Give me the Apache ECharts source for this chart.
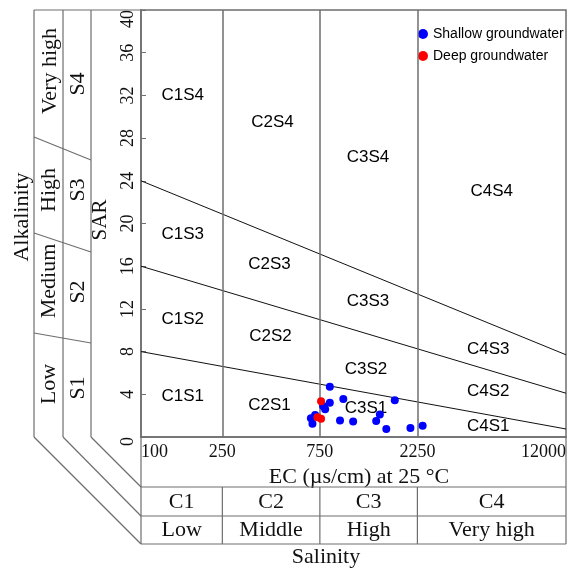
<!DOCTYPE html>
<html>
<head>
<meta charset="utf-8">
<title>Wilcox diagram</title>
<script src="https://cdn.jsdelivr.net/npm/echarts@6/dist/echarts.min.js"></script>
<style>
    html, body { margin: 0; padding: 0; background: #fff; }
    #chart { width: 569px; height: 568px; }
</style>
</head>
<body>
<div id="chart"></div>
<script>
    // sample points
    var shallowEC = [839, 977, 839, 796, 778, 678, 690, 711, 941, 1091, 1414, 1474, 1744, 1585, 2080, 2387];
    var shallowSAR = [4.7, 3.55, 3.2, 2.6, 2.9, 1.75, 1.25, 2.05, 1.55, 1.45, 1.5, 2.1, 3.45, 0.75, 0.85, 1.05];
    var deepEC = [760, 730, 760];
    var deepSAR = [3.35, 1.85, 1.7];

    // axis ticks
    var ecTicks = [100, 250, 750, 2250, 12000];
    var ecBounds = [250, 750, 2250];
    var sarMax = 40;

    // sodium hazard boundary lines (SAR at EC=100 and at EC=12000)
    var boundStart = [8, 16, 24];
    var boundEnd = [0.75, 4.1, 7.7];

    // zone labels
    var zoneNames = ['C1S4', 'C2S4', 'C3S4', 'C4S4', 'C1S3', 'C2S3', 'C3S3', 'C4S3',
        'C1S2', 'C2S2', 'C3S2', 'C4S2', 'C1S1', 'C2S1', 'C3S1', 'C4S1'];
    var zoneEC = [160, 440, 1290, 5200, 160, 425, 1290, 5000, 160, 430, 1260, 5000, 160, 425, 1260, 5000];
    var zoneSAR = [32, 29.5, 26.2, 23, 19, 16.2, 12.7, 8.2, 11, 9.4, 6.3, 4.3, 3.85, 3, 2.7, 1.0];

    var classC = ['C1', 'C2', 'C3', 'C4'];
    var classSal = ['Low', 'Middle', 'High', 'Very high'];

    var serif = '"Liberation Serif", "Times New Roman", serif';
    var sans = '"Liberation Sans", Arial, sans-serif';
    var frame = '#6e6e6e';

    var chart = echarts.init(document.getElementById('chart'));

    var series = [];
    for (var i = 0; i < boundStart.length; i++) {
        series.push({
            type: 'line',
            silent: true,
            symbol: 'none',
            lineStyle: {color: '#111', width: 1},
            data: [[100, boundStart[i]], [12000, boundEnd[i]]],
            z: 2
        });
    }
    series[0].markLine = {
        silent: true,
        symbol: 'none',
        label: {show: false},
        lineStyle: {color: frame, width: 1.5, type: 'solid'},
        data: ecBounds.map(function (v) { return {xAxis: v}; })
    };

    series.push({
        type: 'scatter',
        silent: true,
        symbolSize: 0,
        itemStyle: {opacity: 1},
        label: {
            show: true,
            position: 'inside',
            formatter: function (p) { return p.data.name; },
            color: '#000',
            fontFamily: sans,
            fontSize: 17
        },
        data: zoneNames.map(function (n, k) { return {name: n, value: [zoneEC[k], zoneSAR[k]]}; }),
        z: 3
    });

    series.push({
        name: 'Shallow groundwater',
        type: 'scatter',
        symbolSize: 8,
        itemStyle: {color: '#0000ff', opacity: 1},
        data: shallowEC.map(function (v, k) { return [v, shallowSAR[k]]; }),
        z: 5
    });
    series.push({
        name: 'Deep groundwater',
        type: 'scatter',
        symbolSize: 8,
        itemStyle: {color: '#ff0000', opacity: 1},
        data: deepEC.map(function (v, k) { return [v, deepSAR[k]]; }),
        z: 6
    });

    var option = {
        animation: false,
        backgroundColor: '#fff',
        grid: {
            left: 141, right: 1, top: 10, bottom: 131,
            show: true, borderColor: frame, borderWidth: 1.5
        },
        legend: {
            data: ['Shallow groundwater', 'Deep groundwater'],
            orient: 'vertical',
            left: 413, top: 22,
            icon: 'circle',
            itemWidth: 10, itemHeight: 10,
            itemGap: 8,
            textStyle: {fontFamily: sans, fontSize: 14, color: '#000'}
        },
        xAxis: {
            type: 'log',
            logBase: 10,
            min: 100,
            max: 12000,
            name: 'EC (\u00b5s/cm) at 25 \u00b0C',
            nameLocation: 'middle',
            nameGap: 24,
            nameTextStyle: {fontFamily: serif, fontSize: 22, color: '#111', padding: [0, 0, 0, 11]},
            axisLine: {lineStyle: {color: frame, width: 1.5}},
            axisTick: {show: false},
            splitLine: {show: false},
            axisLabel: {
                customValues: ecTicks,
                formatter: function (v) { return String(Math.round(v)); },
                alignMinLabel: 'left',
                alignMaxLabel: 'right',
                margin: 6,
                fontFamily: serif,
                fontSize: 18,
                color: '#111'
            }
        },
        yAxis: {
            type: 'value',
            min: 0,
            max: sarMax,
            interval: 4,
            name: 'SAR',
            nameLocation: 'middle',
            nameRotate: 90,
            nameGap: 18,
            nameTextStyle: {fontFamily: serif, fontSize: 21, color: '#111', padding: [0, 0, 0, 7]},
            axisLine: {show: true, lineStyle: {color: frame, width: 1.5}},
            axisTick: {show: true, inside: true, length: 5, lineStyle: {color: frame}},
            splitLine: {show: false},
            axisLabel: {
                rotate: 90,
                margin: 4,
                alignMinLabel: 'right',
                alignMaxLabel: 'right',
                fontFamily: serif,
                fontSize: 18,
                color: '#111'
            }
        },
        series: series
    };
    chart.setOption(option);

    // frame round the plot: alkalinity columns on the left, salinity table below
    var px = ecTicks.map(function (v) { return chart.convertToPixel({xAxisIndex: 0}, v); });
    var xl = px[0], xr = px[4];
    var yTop = 10, yBot = 437, r1 = 487, r2 = 516, r3 = 544;
    var colX = [34, 63, 91];

    function line(x1, y1, x2, y2, color, w) {
        return {type: 'line', silent: true, shape: {x1: x1, y1: y1, x2: x2, y2: y2},
            style: {stroke: color || frame, lineWidth: w || 1.2}, z: 10};
    }
    function text(s, x, y, size, rot, font) {
        return {type: 'text', silent: true, x: x, y: y, rotation: rot ? Math.PI / 2 : 0,
            style: {text: s, fontFamily: font || serif, fontSize: size, fill: '#111',
                textAlign: 'center', textVerticalAlign: 'middle'}, z: 10};
    }

    var g = [];
    g.push(line(colX[0], yTop, xl, yTop));
    colX.forEach(function (x) { g.push(line(x, yTop, x, yBot)); });
    g.push(line(colX[0], yBot, xl, r3));
    g.push(line(colX[1], yBot, xl, r2));
    g.push(line(colX[2], yBot, xl, r1));
    g.push(line(colX[0], 137, colX[2], 160));
    g.push(line(colX[0], 233, colX[2], 252));
    g.push(line(colX[0], 333, colX[2], 343));

    [r1, r2, r3].forEach(function (y) { g.push(line(xl, y, xr, y)); });
    g.push(line(xl, yBot, xl, r3));
    g.push(line(xr, yBot, xr, r3));
    for (var k = 1; k < 4; k++) g.push(line(px[k], r1, px[k], r3));
    for (k = 0; k < 4; k++) {
        var cx = (px[k] + px[k + 1]) / 2;
        g.push(text(classC[k], cx, 502, 22));
        g.push(text(classSal[k], cx, 530, 22));
    }
    g.push(text('Salinity', 326, 557, 22));

    g.push(text('Alkalinity', 22, 217, 22, true));
    g.push(text('Very high', 50, 71, 22, true));
    g.push(text('High', 49, 190, 22, true));
    g.push(text('Medium', 49, 281, 22, true));
    g.push(text('Low', 49, 384, 22, true));
    g.push(text('S4', 78, 84, 22, true));
    g.push(text('S3', 78, 190, 22, true));
    g.push(text('S2', 78, 292, 22, true));
    g.push(text('S1', 78, 388, 22, true));

    chart.setOption({graphic: g});
</script>
</body>
</html>
